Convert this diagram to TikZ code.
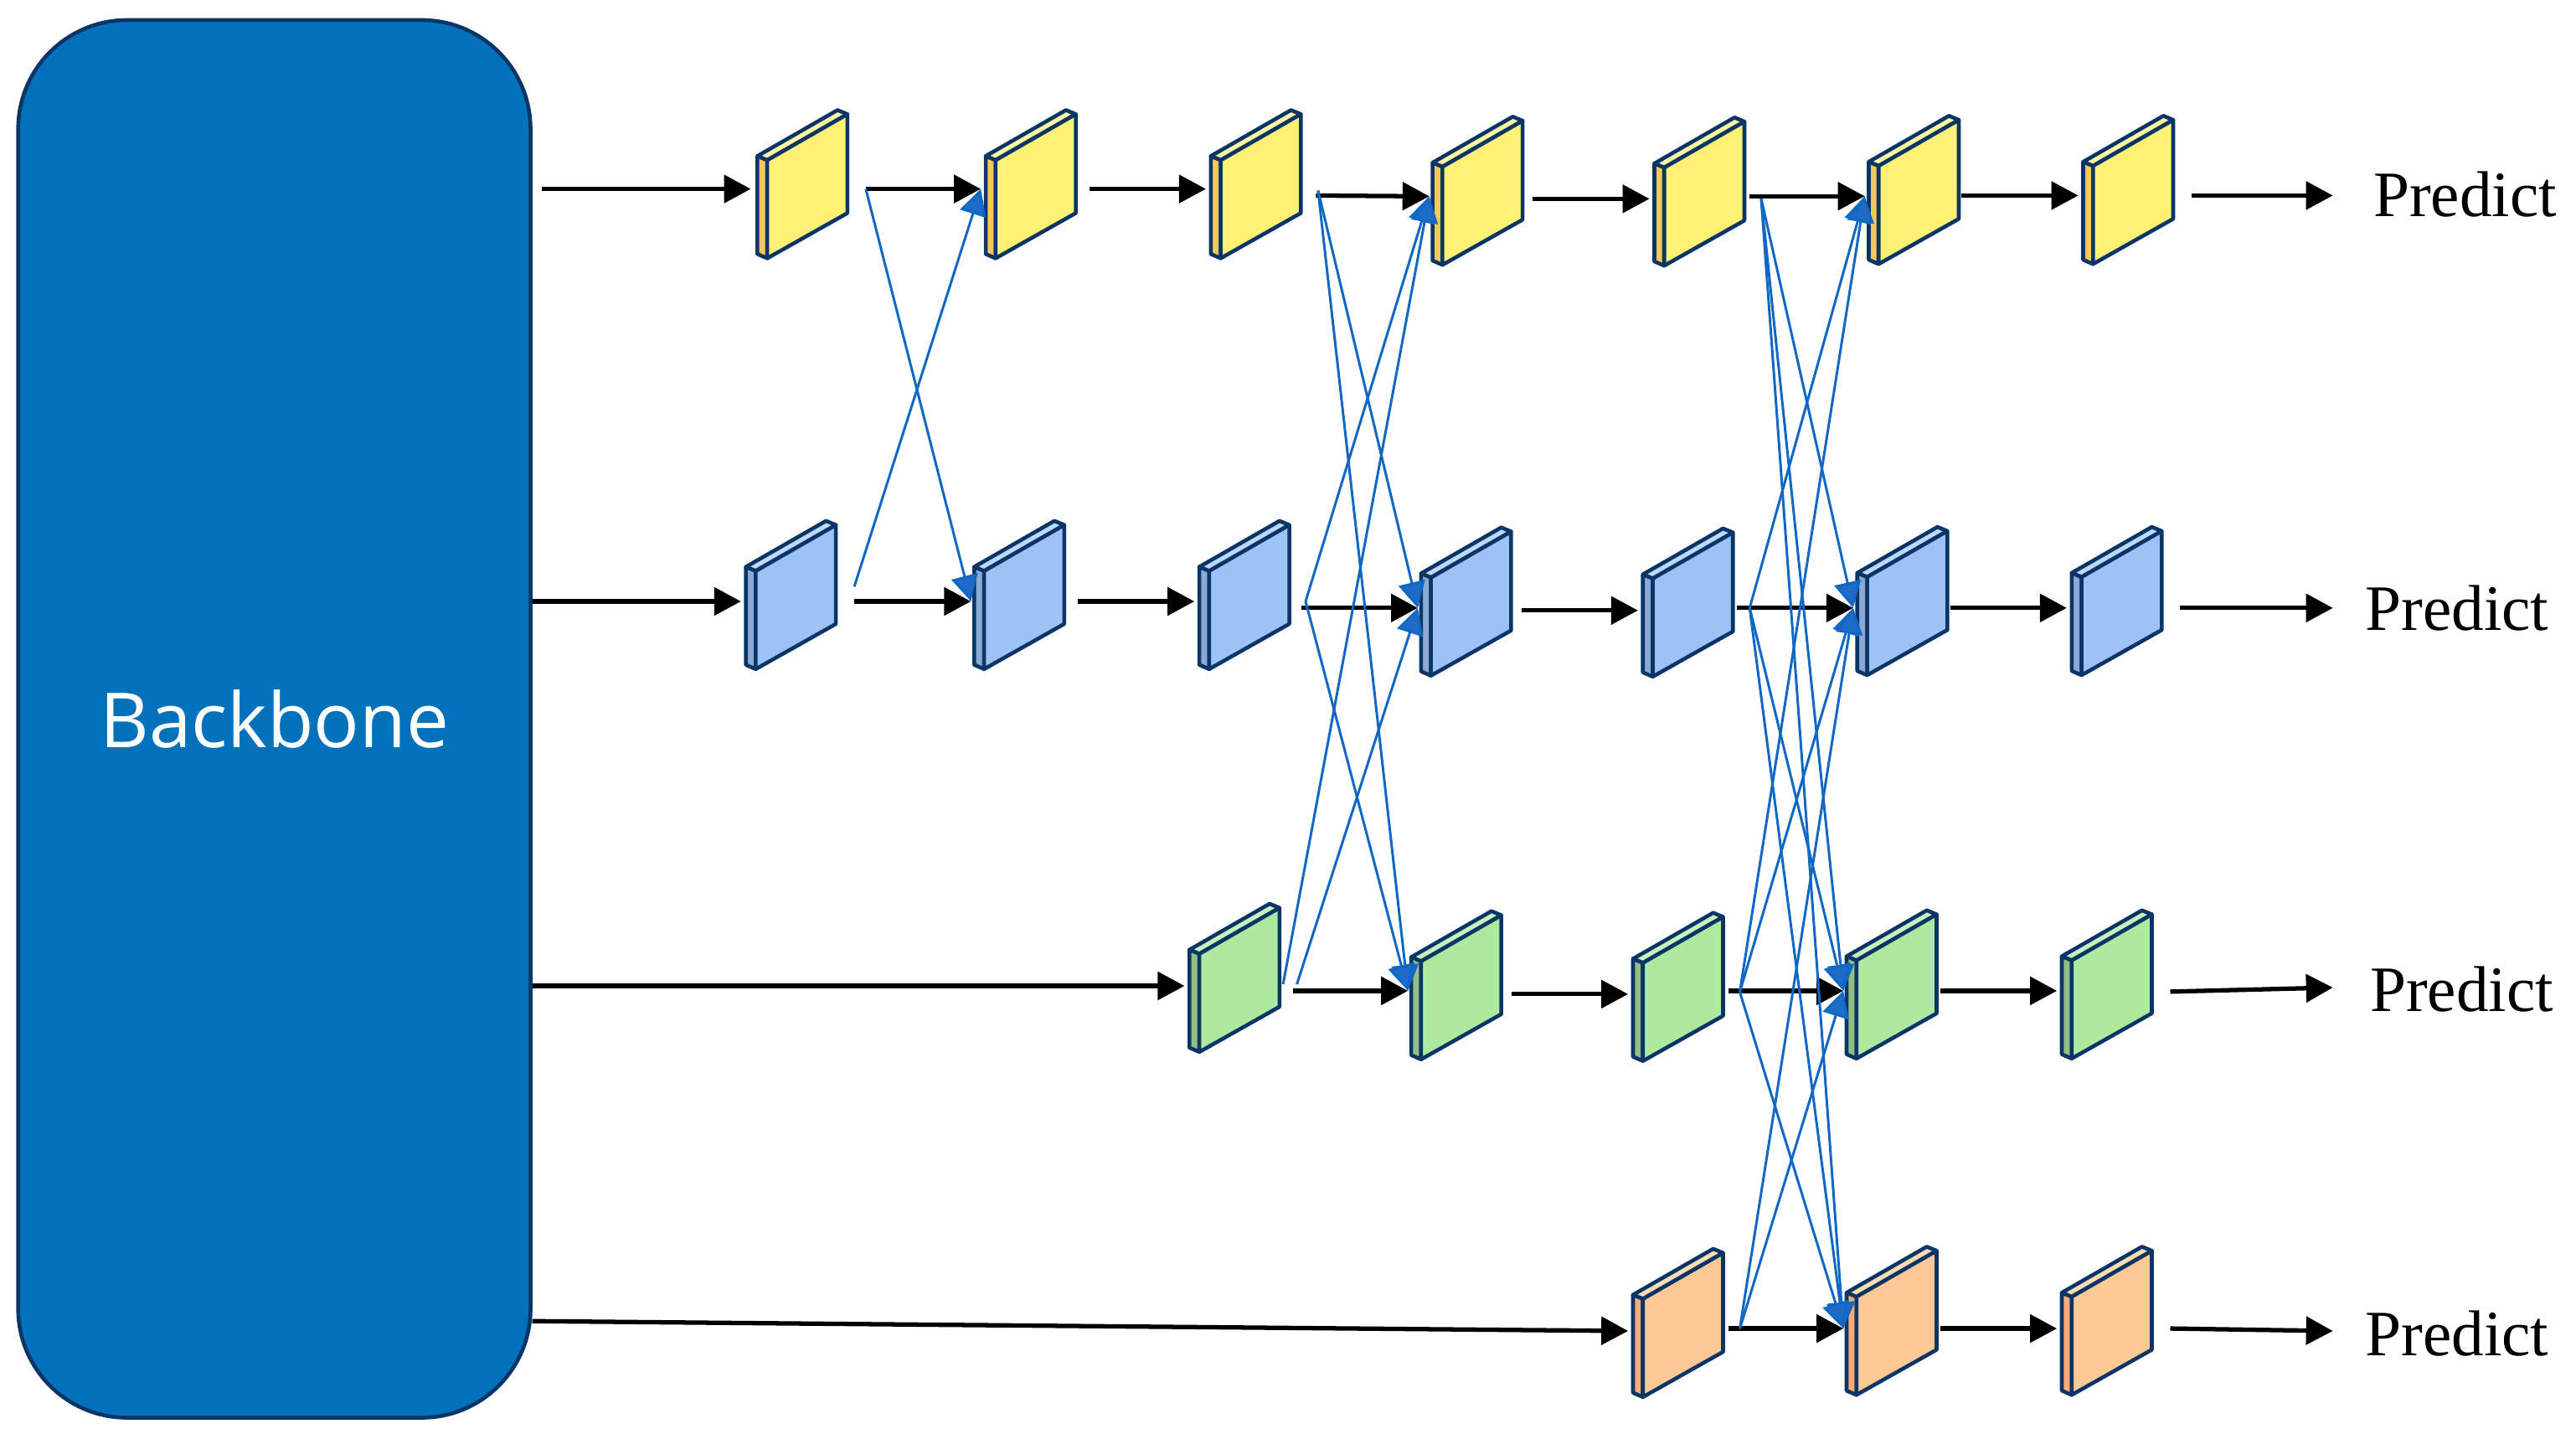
\documentclass[tikz,border=0pt]{standalone}
\usepackage{fontspec}
\setmainfont{Liberation Serif}
\newfontfamily\bbfont{Open Sans}
\usetikzlibrary{arrows.meta}
\definecolor{navy}{HTML}{0B3567}
\definecolor{bluelink}{HTML}{1068C4}
\definecolor{bluehead}{HTML}{1F6CC8}
\definecolor{ymain}{HTML}{FFF176}\definecolor{yside}{HTML}{F6C858}\definecolor{ytop}{HTML}{FFF8A0}
\definecolor{bmain}{HTML}{9DC3F5}\definecolor{bside}{HTML}{8AA9D4}\definecolor{btop}{HTML}{BDD7FA}
\definecolor{gmain}{HTML}{AEEA9E}\definecolor{gside}{HTML}{93BF84}\definecolor{gtop}{HTML}{C8F0BC}
\definecolor{omain}{HTML}{FFC995}\definecolor{oside}{HTML}{F4AC78}\definecolor{otop}{HTML}{FFDCB0}
\definecolor{bbfill}{HTML}{0071BA}
\tikzset{
  facebox/.style={draw=navy,line width=1.3pt,line join=round},
  flow/.style={draw=black,line width=1.5pt,-{Triangle[length=3.2mm,width=3.3mm]}},
  cross/.style={draw=bluelink,line width=0.85pt,-{Triangle[length=3.1mm,width=3.2mm,fill=bluehead]}},
  predict/.style={font=\fontsize{22}{26}\selectfont,inner sep=0pt},
  backbone/.style={draw=navy,line width=1.3pt,fill=bbfill,rounded corners=1.3cm,minimum width=6.12cm,minimum height=16.69cm,text=white,font=\bbfont\fontsize{25.8}{30}\selectfont}
}
% name, left x, apex y, colour prefix, in x, in y, out x, out y
\newcommand{\blk}[8]{%
  \coordinate (#1) at (#2,#3);
  \coordinate (#1-in) at (#5,#6);
  \coordinate (#1-out) at (#7,#8);
  \begin{scope}[shift={(#2,#3+28)}]
    \filldraw[facebox,fill=#4top] (0,0) -- (48.8,-28) -- (54.8,-25.5) -- (6,2.5) -- cycle;
    \filldraw[facebox,fill=#4side] (0,0) -- (6,2.5) -- (6,62.2) -- (0,59.6) -- cycle;
    \filldraw[facebox,fill=#4main] (6,2.5) -- (54.8,-25.5) -- (54.8,34.7) -- (6,62.2) -- cycle;
  \end{scope}}
\begin{document}
\begin{tikzpicture}[x=0.019617cm,y=-0.019617cm]
\useasboundingbox (0,0) rectangle (1568,872.7);
\node[backbone] (bb) at (167,437.5) {Backbone};
% free ends on the Backbone side
\coordinate (bb1) at (330,115);
\coordinate (bb2) at (324,366);
\coordinate (bb3) at (324,600);
\coordinate (bb4) at (324,804);
% row 1
\blk{y1}{461}{67}{y}{457}{115}{527}{115}
\blk{y2}{600}{67}{y}{597}{115}{663}{115}
\blk{y3}{737}{67}{y}{734}{115}{801}{119}
\blk{y4}{872}{71}{y}{870}{119.5}{933}{121}
\blk{y5}{1007}{71.5}{y}{1004}{121}{1065}{119.4}
\blk{y6}{1137.5}{70.5}{y}{1135}{119.4}{1194}{119}
\blk{y7}{1268}{70.5}{y}{1265}{119}{1334}{119}
% row 2
\blk{b1}{454}{317}{b}{451}{366}{520}{366}
\blk{b2}{593}{317}{b}{591}{366}{656}{366}
\blk{b3}{730}{317}{b}{727}{366}{792}{370}
\blk{b4}{865}{321}{b}{863}{370}{926}{371.5}
\blk{b5}{1000}{321.6}{b}{997}{371.5}{1057}{370}
\blk{b6}{1130.5}{320.7}{b}{1128}{370}{1187}{370}
\blk{b7}{1261}{320.7}{b}{1258}{370}{1327}{370}
% row 3
\blk{g1}{724}{550}{g}{721}{600}{787}{603}
\blk{g2}{859}{554.5}{g}{857}{603}{920}{605}
\blk{g3}{994}{555.5}{g}{991}{605}{1052}{603}
\blk{g6}{1124}{554}{g}{1122}{603}{1181}{603}
\blk{g7}{1255}{554}{g}{1252}{603}{1321}{603.5}
% row 4
\blk{o5}{994}{760}{o}{991}{810}{1052}{808.5}
\blk{o6}{1124}{758.7}{o}{1122}{808.5}{1181}{808.5}
\blk{o7}{1255}{758.7}{o}{1252}{808.5}{1321}{808.5}
% labels
\node[predict] (p1) at (1500.5,118.3) {Predict};
\node[predict] (p2) at (1495.5,370.3) {Predict};
\node[predict] (p3) at (1498.5,602.3) {Predict};
\node[predict] (p4) at (1495.5,811.3) {Predict};
\coordinate (p1-in) at (1420,119);
\coordinate (p2-in) at (1420,370);
\coordinate (p3-in) at (1420,601);
\coordinate (p4-in) at (1420,810);
% main flow
\foreach \a/\b in {bb1/y1-in,y1-out/y2-in,y2-out/y3-in,y3-out/y4-in,y4-out/y5-in,y5-out/y6-in,y6-out/y7-in,y7-out/p1-in,
  bb2/b1-in,b1-out/b2-in,b2-out/b3-in,b3-out/b4-in,b4-out/b5-in,b5-out/b6-in,b6-out/b7-in,b7-out/p2-in,
  bb3/g1-in,g1-out/g2-in,g2-out/g3-in,g3-out/g6-in,g6-out/g7-in,g7-out/p3-in,
  bb4/o5-in,o5-out/o6-in,o6-out/o7-in,o7-out/p4-in}
  \draw[flow] (\a) -- (\b);
% fan-out points of the cross links
\coordinate (fy1) at (527,115);
\coordinate (fb1) at (520,357);
\coordinate (fy3) at (802.3,116);
\coordinate (fb3) at (794.7,366);
\coordinate (fg1a) at (781,599);
\coordinate (fg1b) at (789.4,599);
\coordinate (fy5) at (1072,120.8);
\coordinate (fb5) at (1065,370);
\coordinate (fg3) at (1059,603.7);
\coordinate (fo5) at (1059,808.6);
% cross links
\foreach \a/\b in {fy1/b2-in,fb1/y2-in,
  fy3/b4-in,fy3/g2-in,fb3/y4-in,fb3/g2-in,fg1a/y4-in,fg1b/b4-in,
  fy5/b6-in,fy5/g6-in,fy5/o6-in,fb5/y6-in,fb5/g6-in,fb5/o6-in,
  fg3/y6-in,fg3/b6-in,fg3/o6-in,fo5/b6-in,fo5/g6-in}
  \draw[cross] (\a) -- (\b);
\end{tikzpicture}
\end{document}
